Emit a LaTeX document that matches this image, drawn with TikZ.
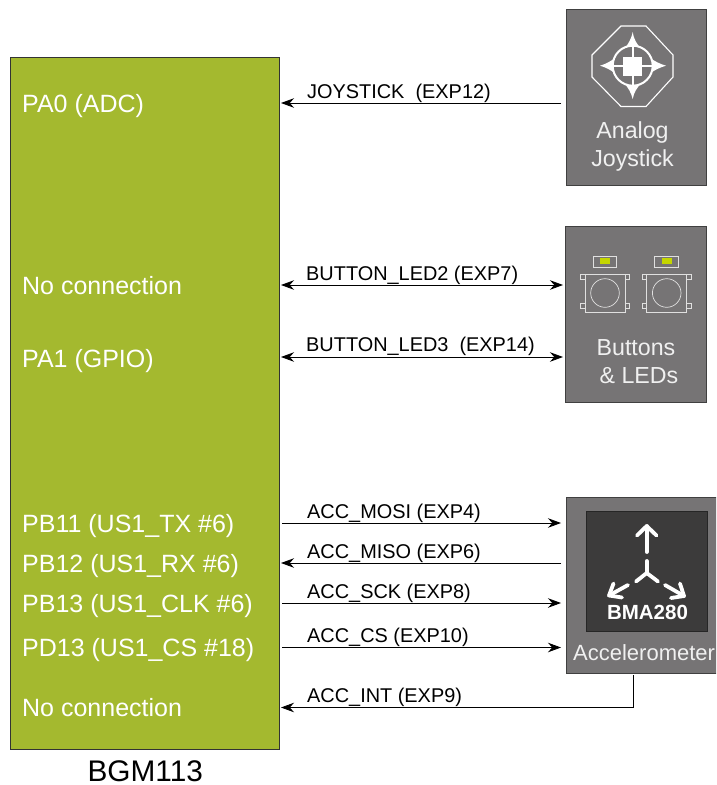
\documentclass[tikz,border=0pt]{standalone}
\usepackage{fontspec}
\setmainfont{Liberation Sans}
\usetikzlibrary{arrows.meta}
\definecolor{mcu}{HTML}{A4B92F}
\definecolor{panel}{HTML}{767475}
\definecolor{chip}{HTML}{3C3B3B}
\definecolor{ledy}{HTML}{C4D600}
\definecolor{soft}{HTML}{F0F0F0}
\tikzset{
  x=1pt,y=-1pt,
  panelbox/.style={draw=black!75,line width=0.9pt,fill=panel,rectangle,inner sep=0pt,anchor=north west},
  mcubox/.style={draw=black!80,line width=0.7pt,fill=mcu,rectangle,inner sep=0pt,anchor=north west},
  pinlabel/.style={anchor=base west,text=white,inner sep=0pt,font=\fontsize{25}{25}\selectfont},
  siglabel/.style={anchor=base west,text=black,inner sep=0pt,font=\fontsize{19.9}{20}\selectfont},
  boxcap/.style={anchor=base,text=soft,inner sep=0pt,font=\fontsize{23.2}{24}\selectfont},
  wire/.style={line width=0.8pt,draw=black},
  arrowline/.style={wire,-{Stealth[length=13pt,width=9.5pt]}},
  dblline/.style={wire,{Stealth[length=13pt,width=9.5pt]}-{Stealth[length=13pt,width=9.5pt]}},
  iconline/.style={draw=white,line width=1.1pt},
  thiniconline/.style={draw=white!88!black,line width=0.7pt},
  axisline/.style={draw=white,line width=3.8pt,line cap=round,line join=round},
}
\newcommand{\pushbutton}[2]{%
  \draw[thiniconline] (#1-7,#2-22) rectangle (#1+16.3,#2-10.7);
  \fill[ledy] (#1,#2-19.7) rectangle (#1+10,#2-14);
  \draw[thiniconline] (#1-15,#2-3.7) rectangle (#1+25,#2+34.3);
  \draw[thiniconline] (#1+5,#2+15) circle (14.3);
  \foreach \ty in {2,31}{
    \draw[thiniconline] (#1-19.7,#2-5.7+\ty) rectangle (#1-15,#2-1+\ty);
    \draw[thiniconline] (#1+25,#2-5.7+\ty) rectangle (#1+29.7,#2-1+\ty);
  }
}
\begin{document}
\begin{tikzpicture}
\useasboundingbox (0,0) rectangle (716,785);
\clip (0,0) rectangle (716,785);

% panels
\node[mcubox,minimum width=269.4pt,minimum height=692pt] (main) at (9.6,56.6) {};
\node[panelbox,minimum width=140pt,minimum height=176pt] (joy) at (565.8,9) {};
\node[panelbox,minimum width=141pt,minimum height=176pt] (btn) at (565.3,226) {};
\node[panelbox,minimum width=160pt,minimum height=175.5pt] (acc) at (566.3,497.3) {};
\node[draw=black!85,line width=0.8pt,fill=chip,rectangle,inner sep=0pt,anchor=north west,minimum width=120.7pt,minimum height=120pt] (chipbox) at (586,510.7) {};

% pin names
\node[pinlabel] (p1) at (22,112) {PA0 (ADC)};
\node[pinlabel] (p2) at (22,294) {No connection};
\node[pinlabel] (p3) at (22,367) {PA1 (GPIO)};
\node[pinlabel] (p4) at (22,532) {PB11 (US1\_TX \#6)};
\node[pinlabel] (p5) at (22,572) {PB12 (US1\_RX \#6)};
\node[pinlabel] (p6) at (22,612) {PB13 (US1\_CLK \#6)};
\node[pinlabel] (p7) at (22,656) {PD13 (US1\_CS \#18)};
\node[pinlabel] (p8) at (22,716) {No connection};
\node[anchor=base,inner sep=0pt,font=\fontsize{29.8}{30}\selectfont] (title) at (145.3,781.5) {BGM113};

% connector ends
\coordinate (jL) at (281,103);   \coordinate (jR) at (561,103);
\coordinate (b2L) at (281,285);  \coordinate (b2R) at (563,285);
\coordinate (b3L) at (281,357);  \coordinate (b3R) at (563,357);
\coordinate (moL) at (282,523);  \coordinate (moR) at (561,523);
\coordinate (miL) at (281,563);  \coordinate (miR) at (561,563);
\coordinate (ckL) at (282,603);  \coordinate (ckR) at (561,603);
\coordinate (csL) at (282,647.5);\coordinate (csR) at (561,647.5);
\coordinate (inL) at (281,707.5);\coordinate (inC) at (633.5,707.5);\coordinate (inT) at (633.5,675);

\draw[arrowline] (jR) -- (jL);
\draw[dblline] (b2L) -- (b2R);
\draw[dblline] (b3L) -- (b3R);
\draw[arrowline] (moL) -- (moR);
\draw[arrowline] (miR) -- (miL);
\draw[arrowline] (ckL) -- (ckR);
\draw[arrowline] (csL) -- (csR);
\draw[arrowline] (inT) -- (inC) -- (inL);

% signal labels
\node[siglabel] (s1) at (307,98) {JOYSTICK\ \ (EXP12)};
\node[siglabel] (s2) at (306,280) {BUTTON\_LED2 (EXP7)};
\node[siglabel] (s3) at (306,351) {BUTTON\_LED3\ \ (EXP14)};
\node[siglabel] (s4) at (307,518) {ACC\_MOSI (EXP4)};
\node[siglabel] (s5) at (307,558) {ACC\_MISO (EXP6)};
\node[siglabel] (s6) at (307,598) {ACC\_SCK (EXP8)};
\node[siglabel] (s7) at (307,642) {ACC\_CS (EXP10)};
\node[siglabel] (s8) at (307,702) {ACC\_INT (EXP9)};

% joystick icon
\draw[iconline] (621,26) -- (646,26) -- (673,55) -- (673,77) -- (646,106.5) -- (621,106.5) -- (592,77) -- (592,55) -- cycle;
\fill[white] (632.7,32)
  .. controls (634,40) and (637,44) .. (640.5,48)
  -- (650.5,58)
  .. controls (654,61) and (660,64) .. (666,65.7)
  .. controls (660,67.5) and (654,70) .. (650.5,73.5)
  -- (640.5,84)
  .. controls (637,88) and (634,92) .. (632.7,99)
  .. controls (631,92) and (628,88) .. (625,84)
  -- (615,73.5)
  .. controls (611,70) and (606,67.5) .. (600,65.7)
  .. controls (606,64) and (611,61) .. (615,58)
  -- (625,48)
  .. controls (628,44) and (631,40) .. (632.7,32) -- cycle;
\fill[panel] (632.7,65.7) circle (20);
\draw[draw=white,line width=2pt] (632.7,65.7) circle (20);
\draw[draw=white,line width=1.6pt] (613,65.7) -- (652,65.7) (632.7,46) -- (632.7,85);
\fill[white] (623,56.5) rectangle (642.3,76);
\node[boxcap] (c1) at (632.5,138) {Analog};
\node[boxcap] (c2) at (632.5,166) {Joystick};

% buttons icon
\pushbutton{600}{278}
\pushbutton{661.7}{278}
\node[boxcap] (c3) at (636,355.5) {Buttons};
\node[boxcap] (c4) at (639,383.5) {\&\ LEDs};

% accelerometer icon
\draw[axisline] (646.7,526) -- (646.7,552);
\draw[axisline] (637,535.5) -- (646.7,526) -- (656.5,535.5);
\draw[axisline] (646.7,561) -- (646.7,573);
\draw[axisline] (636,581.5) -- (646.7,573) -- (658,581.5);
\draw[axisline] (628,585) -- (609,595.5);
\draw[axisline] (613.5,583.5) -- (609,595.5) -- (622,597.5);
\draw[axisline] (665,585) -- (684,596);
\draw[axisline] (680,583.5) -- (684,596) -- (671,598);
\node[anchor=base,text=white,inner sep=0pt,font=\fontsize{20.5}{21}\selectfont\bfseries] (bma) at (647.5,619.5) {BMA280};
\node[anchor=base west,text=soft,inner sep=0pt,font=\fontsize{22}{24}\selectfont] (c5) at (573,660.5) {Accelerometer};
\end{tikzpicture}
\end{document}
